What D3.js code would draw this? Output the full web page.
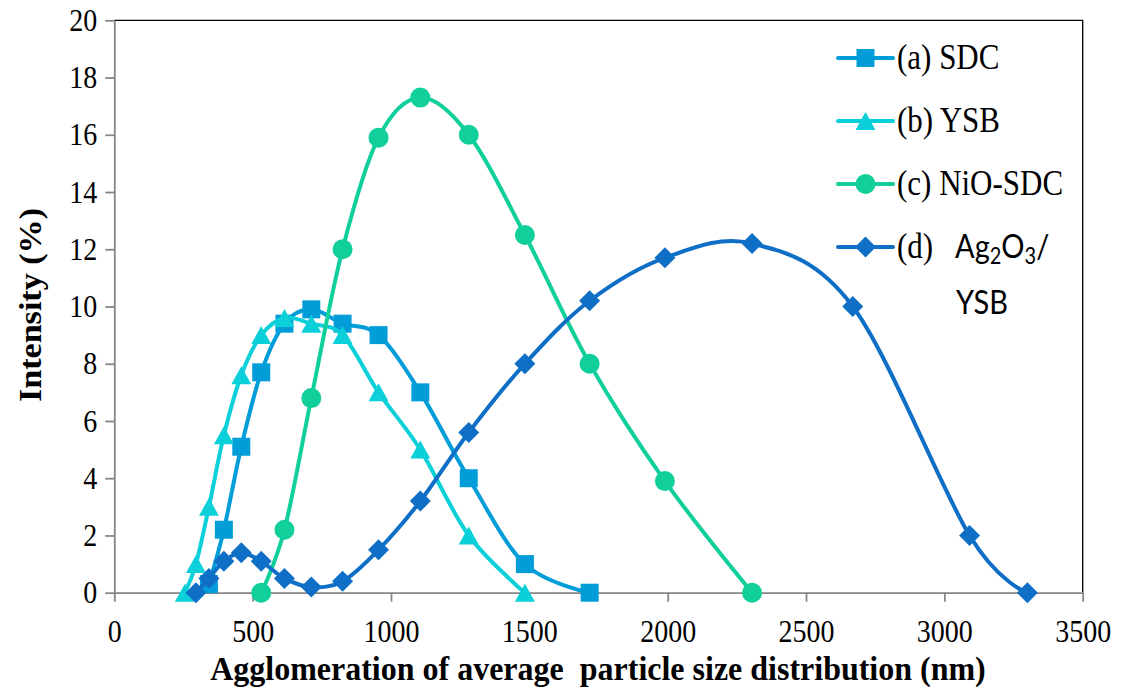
<!DOCTYPE html>
<html>
<head>
<meta charset="utf-8">
<script src="https://cdn.jsdelivr.net/npm/d3@7"></script>
<style>
  html, body { margin: 0; padding: 0; background: #fff; }
  svg { display: block; }
</style>
</head>
<body>
<svg id="chart" width="1134" height="690"></svg>
<script>
// ---------- data ----------
const xTicks = [0, 500, 1000, 1500, 2000, 2500, 3000, 3500];
const yTicks = [0, 2, 4, 6, 8, 10, 12, 14, 16, 18, 20];

const sdcX = [342, 396, 459, 531, 615, 712, 825, 955, 1106, 1281, 1484, 1718];
const sdcY = [0.3, 2.2, 5.1, 7.7, 9.4, 9.9, 9.4, 9.0, 7.0, 4.0, 1.0, 0];

const ysbX = [255, 295, 342, 396, 459, 531, 615, 712, 825, 955, 1106, 1281, 1484];
const ysbY = [0, 1.0, 3.0, 5.5, 7.6, 9.0, 9.6, 9.4, 9.0, 7.0, 5.0, 2.0, 0];

const nioX = [531, 615, 712, 825, 955, 1106, 1281, 1484, 1718, 1990, 2305];
const nioY = [0, 2.2, 6.8, 12.0, 15.9, 17.3, 16.0, 12.5, 8.0, 3.9, 0];

const agX = [295, 342, 396, 459, 531, 615, 712, 825, 955, 1106, 1281, 1484, 1718, 1990, 2305, 2669, 3091, 3300];
const agY = [0, 0.5, 1.1, 1.4, 1.1, 0.5, 0.2, 0.4, 1.5, 3.2, 5.6, 8.0, 10.2, 11.7, 12.2, 10.0, 2.0, 0];

const seriesNames = ["(a) SDC", "(b) YSB", "(c) NiO-SDC", "(d)"];
const xTitle = "Agglomeration of average  particle size distribution (nm)";
const yTitle = "Intensity (%)";

// ---------- setup ----------
const svg = d3.select("#chart");
const x = d3.scaleLinear().domain([0, 3500]).range([114.3, 1082.7]);
const y = d3.scaleLinear().domain([0, 20]).range([592.7, 20.3]);

const serif = "'Liberation Serif', 'Times New Roman', serif";
const sans = "Lato, 'Open Sans', sans-serif";
const axisColor = "#868686";
const K = 1.1; // vertical stretch of the text in the original figure

const series = [
  { name: seriesNames[0], xs: sdcX, ys: sdcY, color: "#009DD9", marker: "square" },
  { name: seriesNames[1], xs: ysbX, ys: ysbY, color: "#0BD0D9", marker: "triangle" },
  { name: seriesNames[2], xs: nioX, ys: nioY, color: "#10CF9B", marker: "circle" },
  { name: seriesNames[3], xs: agX, ys: agY, color: "#0F6FC6", marker: "diamond" }
];

function markerPath(type) {
  if (type === "square") return d3.symbol(d3.symbolSquare, 18 * 18)();
  if (type === "circle") return d3.symbol(d3.symbolCircle, Math.PI * 10 * 10)();
  if (type === "triangle") {
    const w = 20, h = 18;
    return `M0,${-h / 2}L${w / 2},${h / 2}L${-w / 2},${h / 2}Z`;
  }
  const r = 10.5;
  return `M0,${-r}L${r},0L0,${r}L${-r},0Z`;
}

// ---------- frame (top/right) ----------
svg.append("path")
  .attr("d", `M${x(0)},${y(20)}H${x(3500)}V${y(0)}`)
  .attr("fill", "none").attr("stroke", "#000").attr("stroke-width", 1.3);

// ---------- axes ----------
const gx = svg.append("g").attr("transform", `translate(0,${y(0)})`)
  .call(d3.axisBottom(x).tickValues(xTicks).tickSize(9).tickSizeOuter(0).tickFormat(d3.format("d")));
const gy = svg.append("g").attr("transform", `translate(${x(0)},0)`)
  .call(d3.axisLeft(y).tickValues(yTicks).tickSize(9).tickSizeOuter(0).tickPadding(8).tickFormat(d3.format("d")));

[gx, gy].forEach(g => {
  g.attr("font-family", null).attr("font-size", null);
  g.select(".domain").attr("stroke", axisColor).attr("stroke-width", 1.8);
  g.selectAll(".tick line").attr("stroke", axisColor).attr("stroke-width", 1.8);
  g.selectAll(".tick text").attr("fill", "#000")
    .attr("font-family", serif).style("font-family", serif).style("font-size", "28px");
});
gx.selectAll(".tick text").attr("y", 49.5 / K).attr("dy", 0).attr("transform", `scale(1,${K})`);
gy.selectAll(".tick text").attr("y", 0).attr("dy", "0.33em").attr("transform", `scale(1,${K})`);

// ---------- series ----------
const line = d3.line().curve(d3.curveCatmullRom.alpha(0));
series.forEach(s => {
  const pts = s.xs.map((v, i) => [x(v), y(s.ys[i])]);
  const g = svg.append("g");
  g.append("path").attr("d", line(pts))
    .attr("fill", "none").attr("stroke", s.color).attr("stroke-width", 4)
    .attr("stroke-linejoin", "round").attr("stroke-linecap", "round");
  g.selectAll("path.m").data(pts).join("path").attr("class", "m")
    .attr("d", markerPath(s.marker))
    .attr("transform", d => `translate(${d[0]},${d[1]})`)
    .attr("fill", s.color);
});

// ---------- legend ----------
const legY = [58, 121, 184, 247];
const lg = svg.append("g");
series.forEach((s, i) => {
  const yy = legY[i];
  lg.append("line").attr("x1", 838).attr("x2", 893).attr("y1", yy).attr("y2", yy)
    .attr("stroke", s.color).attr("stroke-width", 4).attr("stroke-linecap", "round");
  lg.append("path").attr("d", markerPath(s.marker)).attr("transform", `translate(865.5,${yy})`).attr("fill", s.color);
  lg.append("text").attr("transform", `translate(897,${yy + 11}) scale(1,1.15)`)
    .attr("font-family", serif).style("font-family", serif).style("font-size", "31px").attr("fill", "#000").text(s.name);
});
const agText = lg.append("text").attr("transform", `translate(955,258) scale(1,1.15)`)
  .style("font-family", sans).style("font-size", "29px").attr("fill", "#000");
agText.append("tspan").text("Ag");
agText.append("tspan").attr("dy", 5).style("font-size", "20px").text("2");
agText.append("tspan").attr("dy", -5).text("O");
agText.append("tspan").attr("dy", 5).style("font-size", "20px").text("3");
agText.append("tspan").attr("dy", -5).text("/");
lg.append("text").attr("transform", `translate(956,314) scale(1,1.15)`)
  .style("font-family", sans).style("font-size", "29px").attr("fill", "#000").text("YSB");

// ---------- titles ----------
svg.append("text").attr("transform", `translate(598,680) scale(1,1.05)`).attr("text-anchor", "middle")
  .attr("xml:space", "preserve").style("white-space", "pre")
  .style("font-family", serif).style("font-size", "32px").style("font-weight", "bold").attr("fill", "#000")
  .text(xTitle);
svg.append("text").attr("transform", `translate(41,305) rotate(-90) scale(1.1,1)`).attr("text-anchor", "middle")
  .style("font-family", serif).style("font-size", "31px").style("font-weight", "bold").attr("fill", "#000")
  .text(yTitle);
</script>
</body>
</html>
